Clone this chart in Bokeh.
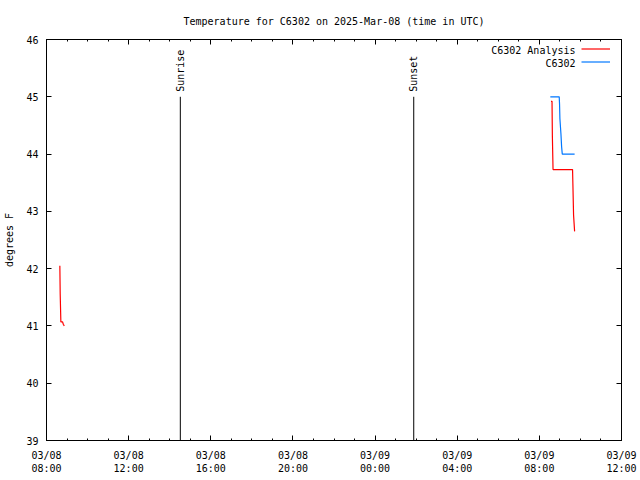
import math
import numpy as np
import pandas as pd
from bokeh.plotting import figure
from bokeh.models import (Range1d, FixedTicker, DatetimeTickFormatter, DatetimeAxis, LinearAxis,
                          CustomJSTickFormatter, Label, Legend, LegendItem)
from bokeh.core.properties import value
from bokeh.embed import file_html
from bokeh.resources import INLINE

# ---------------- data ----------------
analysis_times = ["2025-03-08 08:39", "2025-03-08 08:40", "2025-03-08 08:42", "2025-03-08 08:47",
                  "2025-03-08 08:49", "2025-03-08 08:52", None,
                  "2025-03-09 08:34", "2025-03-09 08:37", "2025-03-09 08:38", "2025-03-09 08:40",
                  "2025-03-09 09:37", "2025-03-09 09:38", "2025-03-09 09:40", "2025-03-09 09:43"]
analysis_temps = [42.05, 41.56, 41.07, 41.07, 41.03, 41.00, None,
                  44.92, 44.92, 44.32, 43.73, 43.73, 43.47, 42.93, 42.65]

obs_times = ["2025-03-09 08:32", "2025-03-09 08:58", "2025-03-09 08:59", "2025-03-09 09:00",
             "2025-03-09 09:03", "2025-03-09 09:05", "2025-03-09 09:07", "2025-03-09 09:43"]
obs_temps = [45.0, 45.0, 44.87, 44.62, 44.36, 44.13, 44.0, 44.0]

sun_times = ["2025-03-08 14:31", "2025-03-09 01:53"]
sun_labels = ["Sunrise", "Sunset"]
sun_line_top = 45

x_start, x_end = "2025-03-08 08:00", "2025-03-09 12:00"
y_ticks = [39, 40, 41, 42, 43, 44, 45, 46]

series_names = ["C6302 Analysis", "C6302"]
series_colors = ["#ff0000", "#0077ff"]

title_text = "Temperature for C6302 on 2025-Mar-08 (time in UTC)"
y_label = "degrees F"

FONT = "DejaVu Sans Mono"
FS = "10px"

# ---------------- helpers ----------------
def to_ms(t):
    return float(pd.Timestamp(t).value // 10**6)

def ms_array(lst):
    return np.array([np.nan if t is None else to_ms(t) for t in lst], dtype=float)

def num_array(lst):
    return np.array([np.nan if v is None else v for v in lst], dtype=float)

major = [to_ms(t) for t in pd.date_range(x_start, x_end, freq="4h")]
minor = [to_ms(t) for t in pd.date_range(x_start, x_end, freq="1h")]

p = figure(width=640, height=480, x_axis_type="datetime",
           x_range=Range1d(to_ms(x_start), to_ms(x_end)),
           y_range=Range1d(y_ticks[0], y_ticks[-1]),
           output_backend="svg", toolbar_location=None,
           min_border_left=46, min_border_right=19, min_border_top=39, min_border_bottom=40)

p.title.text = title_text
p.title.align = "center"
p.title.text_font = FONT
p.title.text_font_size = FS
p.title.text_font_style = "normal"
p.title.text_color = "black"
p.title.standoff = 26

p.xgrid.visible = False
p.ygrid.visible = False
p.outline_line_color = "black"
p.background_fill_color = "white"
p.border_fill_color = "white"

xt = FixedTicker(ticks=major, minor_ticks=minor)
yt = FixedTicker(ticks=y_ticks, minor_ticks=[])
fmt = "%m/%d\n%H:%M"

def style(ax):
    ax.axis_line_color = "black"
    ax.major_tick_line_color = "black"
    ax.minor_tick_line_color = "black"
    ax.major_tick_in = 5
    ax.major_tick_out = 0
    ax.minor_tick_in = 2
    ax.minor_tick_out = 0
    ax.major_label_text_font = FONT
    ax.major_label_text_font_size = FS
    ax.major_label_text_color = "black"

xa = p.xaxis[0]
xa.ticker = xt
xa.formatter = DatetimeTickFormatter(minutes=fmt, hourmin=fmt, hours=fmt, days=fmt, months=fmt)
style(xa)
xa.major_label_standoff = 9

ya = p.yaxis[0]
ya.ticker = yt
style(ya)
ya.major_label_standoff = 8
ya.axis_label = y_label
ya.axis_label_text_font = FONT
ya.axis_label_text_font_size = FS
ya.axis_label_text_font_style = "normal"
ya.axis_label_text_color = "black"
ya.axis_label_standoff = 8

top = DatetimeAxis(ticker=xt, formatter=CustomJSTickFormatter(code="return ''"))
style(top)
top.major_label_standoff = 0
p.add_layout(top, "above")
right = LinearAxis(ticker=yt, formatter=CustomJSTickFormatter(code="return ''"))
style(right)
right.major_label_standoff = 0
p.add_layout(right, "right")

# sunrise / sunset
sun_ms = ms_array(sun_times)
p.segment(x0=sun_ms, y0=np.full(len(sun_ms), float(y_ticks[0])), x1=sun_ms,
          y1=np.full(len(sun_ms), float(sun_line_top)), line_color="black", line_width=1)
for t, lab in zip(sun_times, sun_labels):
    p.add_layout(Label(x=to_ms(t), y=sun_line_top, text=lab, angle=math.pi / 2, angle_units="rad",
                       text_align="left", text_baseline="middle", y_offset=5,
                       text_font=FONT, text_font_size=FS, text_color="black"))

r_red = p.line(ms_array(analysis_times), num_array(analysis_temps), line_color=series_colors[0], line_width=1.2)
r_blue = p.line(ms_array(obs_times), num_array(obs_temps), line_color=series_colors[1], line_width=1.2)

legend = Legend(items=[LegendItem(label=value(""), renderers=[r_red]),
                       LegendItem(label=value(""), renderers=[r_blue])],
                location=(535, 372), glyph_width=29, glyph_height=13, label_width=0,
                label_height=13, label_standoff=0, padding=0, spacing=0, margin=0,
                border_line_alpha=0, background_fill_alpha=0)
p.add_layout(legend)
for i, name in enumerate(series_names):
    p.add_layout(Label(x=529, y=390 - 13 * i, x_units="screen", y_units="screen", text=name,
                       text_align="right", text_baseline="middle",
                       text_font=FONT, text_font_size=FS, text_color="black"))

open("out.html", "w").write(file_html(p, INLINE))
